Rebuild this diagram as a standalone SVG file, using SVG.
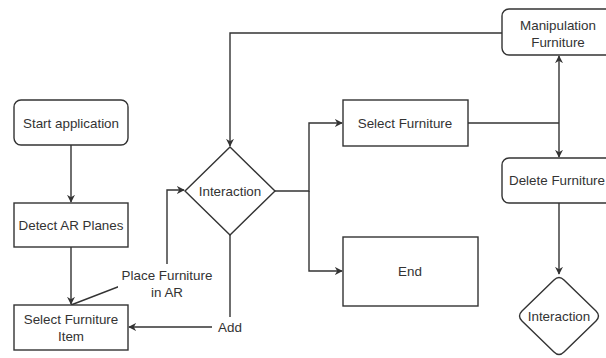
<svg xmlns="http://www.w3.org/2000/svg" width="606" height="358" viewBox="0 0 606 358">
<style>
.n{fill:#fff;stroke:#333;stroke-width:1.4}
.c{fill:none;stroke:#333;stroke-width:1.4}
text{font-family:"Liberation Sans",Arial,sans-serif;font-size:13.4px;fill:#333;text-anchor:middle;dominant-baseline:central}
</style>
<defs>
<marker id="a" viewBox="0 0 10 10" refX="9" refY="5" markerWidth="8" markerHeight="8" orient="auto-start-reverse" markerUnits="userSpaceOnUse">
<path d="M0,0 L10,5 L0,10 L3,5 Z" fill="#333"/>
</marker>
</defs>
<rect width="606" height="358" fill="#fff"/>
<g id="connectors">
<path class="c" d="M71,145 V202" marker-end="url(#a)"/>
<path class="c" d="M71,247 V304" marker-end="url(#a)"/>
<path class="c" d="M71,305 L167,268 V190 H184" marker-end="url(#a)"/>
<path class="c" d="M230,235 V327 H129" marker-end="url(#a)"/>
<path class="c" d="M502,33 H230 V146" marker-end="url(#a)"/>
<path class="c" d="M275,191 H309 V123 H342" marker-end="url(#a)"/>
<path class="c" d="M309,191 V271 H342" marker-end="url(#a)"/>
<path class="c" d="M559,56 V157" marker-start="url(#a)" marker-end="url(#a)"/>
<path class="c" d="M468,123 H559"/>
<path class="c" d="M559,203 V274" marker-end="url(#a)"/>
<rect x="118" y="264" width="98" height="36" fill="#fff"/>
<text x="167" y="275">Place Furniture</text>
<text x="167" y="292">in AR</text>
<rect x="212" y="317" width="36" height="20" fill="#fff"/>
<text x="230" y="327">Add</text>
</g>
<g id="start">
<rect class="n" x="14" y="100" width="114" height="45" rx="7"/>
<text x="71" y="123">Start application</text>
</g>
<g id="detect">
<rect class="n" x="14" y="203" width="114" height="44"/>
<text x="71" y="225">Detect AR Planes</text>
</g>
<g id="selectItem">
<rect class="n" x="14" y="305" width="114" height="45"/>
<text x="71" y="319">Select Furniture</text>
<text x="71" y="336">Item</text>
</g>
<g id="interaction1">
<path class="n" d="M230,147 L275,191 L230,235 L185,191 Z"/>
<text x="230" y="191">Interaction</text>
</g>
<g id="selectFurniture">
<rect class="n" x="343" y="100" width="125" height="46"/>
<text x="405" y="123">Select Furniture</text>
</g>
<g id="end">
<rect class="n" x="343" y="237" width="135" height="69"/>
<text x="410" y="271">End</text>
</g>
<g id="manipulation">
<rect class="n" x="502" y="9" width="110" height="46" rx="7"/>
<text x="558" y="25">Manipulation</text>
<text x="558" y="42">Furniture</text>
</g>
<g id="delete">
<rect class="n" x="502" y="158" width="110" height="45" rx="7"/>
<text x="557" y="180">Delete Furniture</text>
</g>
<g id="interaction2">
<path class="n" d="M554,280 Q559,275 564,280 L596,311 Q601,316 596,321 L564,352 Q559,357 554,352 L522,321 Q517,316 522,311 Z"/>
<text x="559" y="316">Interaction</text>
</g>
</svg>
